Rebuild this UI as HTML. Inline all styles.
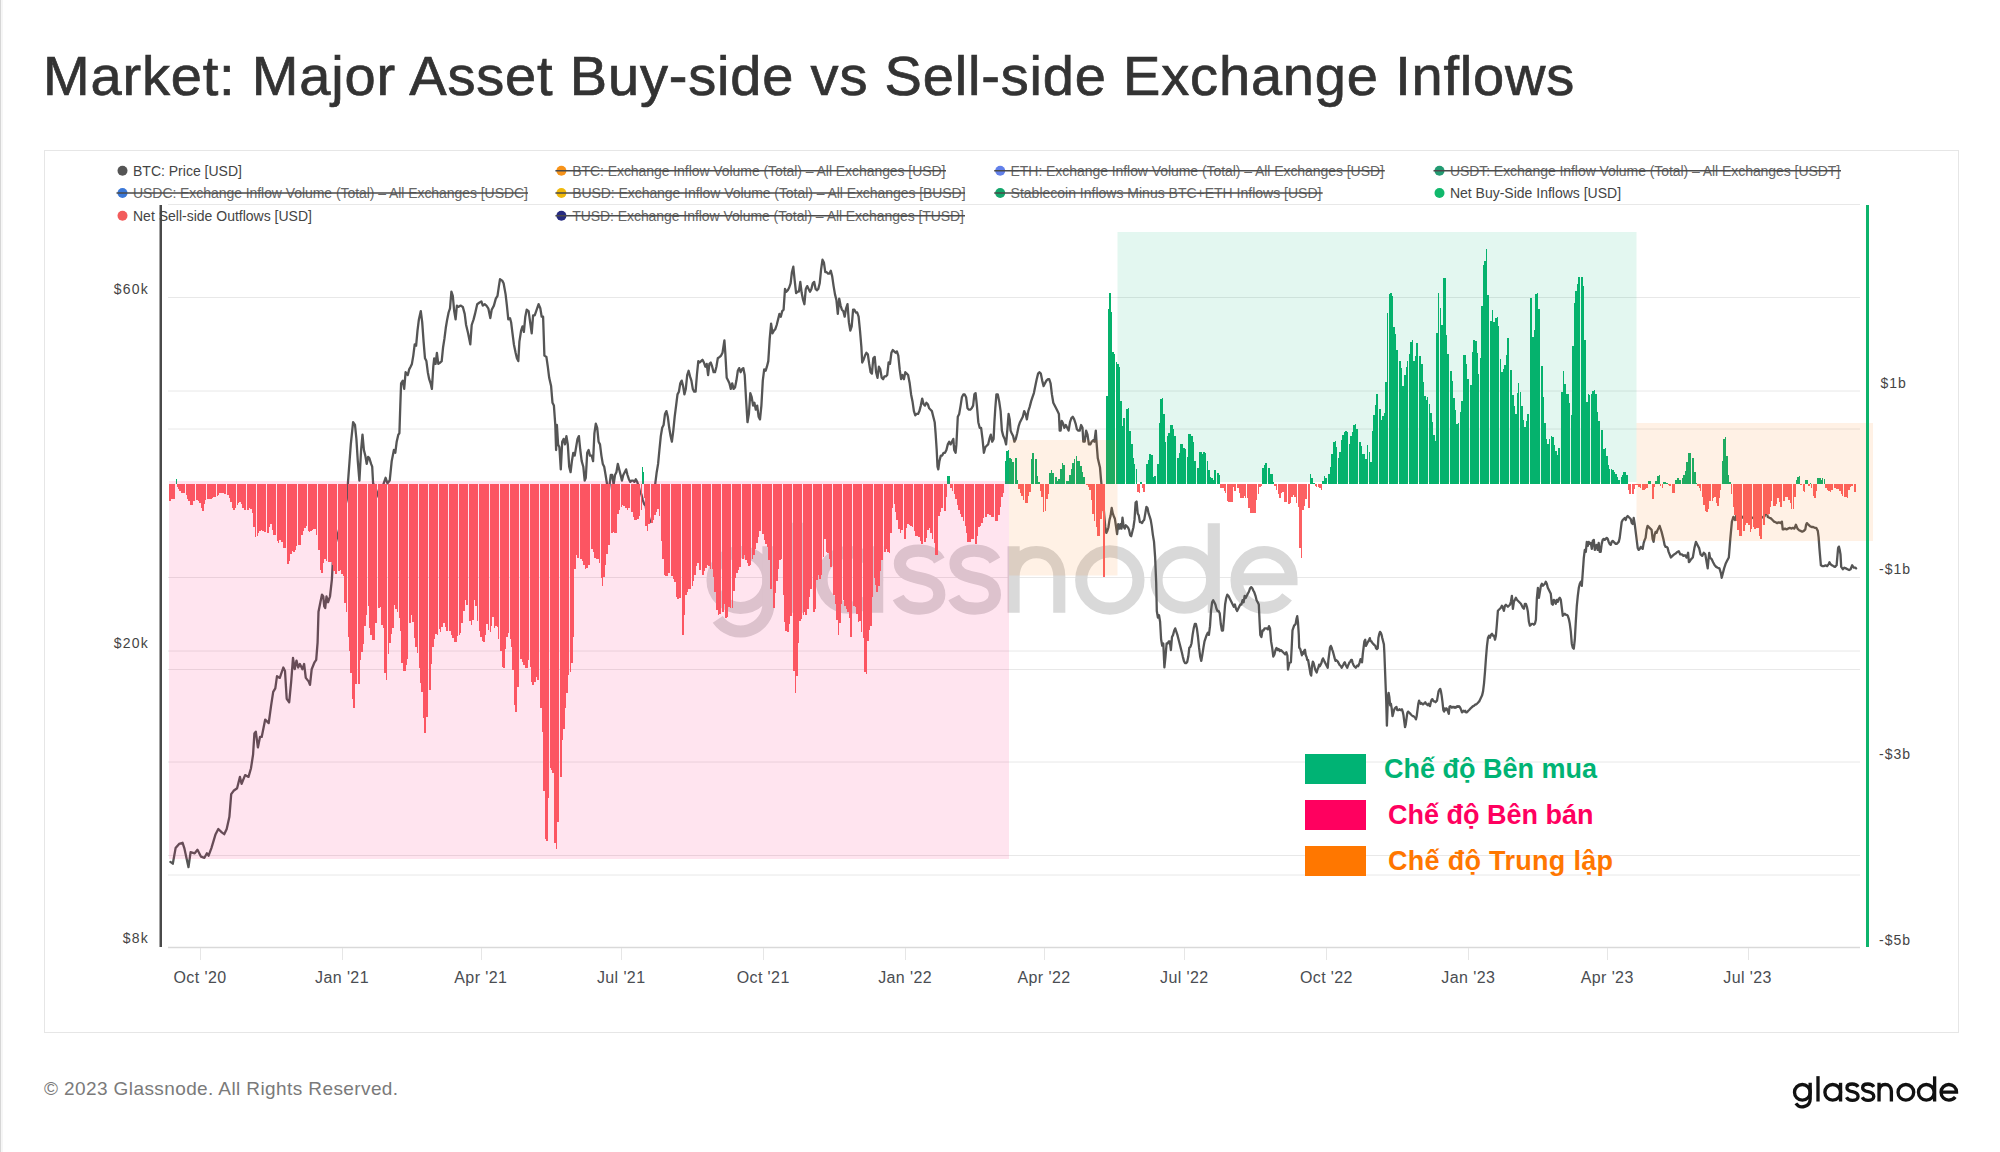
<!DOCTYPE html>
<html><head><meta charset="utf-8">
<style>
html,body{margin:0;padding:0;background:#fff;}
body{width:2000px;height:1152px;position:relative;overflow:hidden;font-family:"Liberation Sans",sans-serif;}
.abs{position:absolute;white-space:nowrap;}
#title{left:43px;top:0px;font-size:54px;line-height:54px;color:#333;}
#frame{position:absolute;left:44px;top:150px;width:1913px;height:881px;border:1px solid #e6e6e6;}
.lg{position:absolute;font-size:14px;line-height:14px;color:#444;white-space:nowrap;}
#foot{left:44px;font-size:19px;line-height:19px;color:#7a7a7a;}
.viet{position:absolute;font-weight:bold;font-size:27px;line-height:27px;white-space:nowrap;}
</style></head>
<body>
<div style="position:absolute;left:0;top:0;width:1px;height:1152px;background:#d6d6d6"></div>
<div style="position:absolute;left:1px;top:0;width:2px;height:1152px;background:#f6f6f6"></div>
<div id="frame"></div>
<svg width="2000" height="1152" viewBox="0 0 2000 1152" style="position:absolute;left:0;top:0">
<defs>
<g id="gn" fill="none" stroke-width="35">
 <circle cx="235" cy="340" r="82.5"/>
 <path d="M317.5,240V410A82.5,82.5 0 0 1 167,457"/>
 <path d="M400,170V437"/>
 <circle cx="555" cy="340" r="82.5"/>
 <path d="M637.5,240V437"/>
 <path d="M822,282C808,258 782,253 760,253C725,253 705,270 705,292C705,320 735,328 762,334C800,342 822,352 822,384C822,410 796,425 762,425C735,425 712,415 700,392"/>
 <path d="M987,282C973,258 947,253 925,253C890,253 870,270 870,292C870,320 900,328 927,334C965,342 987,352 987,384C987,410 961,425 927,425C900,425 877,415 865,392"/>
 <path d="M1042.5,240V437M1042.5,330C1042.5,285 1070,257.5 1107.5,257.5C1145,257.5 1172.5,285 1172.5,330V437"/>
 <circle cx="1325" cy="340" r="82.5"/>
 <circle cx="1540" cy="340" r="82.5"/>
 <path d="M1627.5,172V437"/>
 <path d="M1695,338H1858C1858,290 1822,257.5 1777,257.5C1732,257.5 1695,294 1695,340C1695,386 1732,422.5 1777,422.5C1805,422.5 1830,410 1845,390"/>
</g>
<g id="gw" fill="none" stroke-width="36">
 <circle cx="232" cy="340" r="83"/>
 <path d="M315,240V410A82.5,82.5 0 0 1 164.5,457"/>
 <path d="M400,170V437"/>
 <circle cx="555" cy="340" r="82.5"/>
 <path d="M637.5,240V437"/>
 <path d="M822,282C808,258 782,253 760,253C725,253 705,270 705,292C705,320 735,328 762,334C800,342 822,352 822,384C822,410 796,425 762,425C735,425 712,415 700,392"/>
 <path d="M987,282C973,258 947,253 925,253C890,253 870,270 870,292C870,320 900,328 927,334C965,342 987,352 987,384C987,410 961,425 927,425C900,425 877,415 865,392"/>
 <path d="M1042.5,240V437M1042.5,330C1042.5,285 1072,257.5 1110,257.5C1150,257.5 1178,285 1178,330V437"/>
 <circle cx="1328" cy="340" r="85"/>
 <circle cx="1549" cy="340" r="82.5"/>
 <path d="M1636.5,172V437"/>
 <path d="M1704,338H1867C1867,290 1831,257.5 1786,257.5C1741,257.5 1704,294 1704,340C1704,386 1741,422.5 1786,422.5C1814,422.5 1839,410 1854,390"/>
</g>
</defs>
<!-- gridlines -->
<g stroke="#e8e8e8" stroke-width="1">
<path d="M168,204.5H1860M168,297.5H1860M168,391H1860M168,429H1860M168,577.5H1860M168,651H1860M168,669.5H1860M168,762H1860M168,855.5H1860M168,875H1860"/>
</g>
<path d="M168,947.5H1860" stroke="#d9d9d9" stroke-width="1.5"/>
<!-- watermark -->
<use href="#gw" stroke="#d9d9d9" transform="translate(662.3,465.4) scale(0.337)"/>
<!-- price -->
<path d="M170.4,861.9 L172.8,863.7 L175.6,848.1 L179.1,843.9 L182.6,842.8 L184.3,848.1 L188.5,867.2 L190.6,852.2 L194.7,853.3 L197.5,849.8 L201.0,856.7 L204.4,857.8 L206.9,853.3 L208.6,855.7 L211.4,848.1 L215.6,834.2 L218.3,829.0 L221.8,832.4 L224.2,834.2 L226.7,829.0 L229.4,816.8 L231.2,794.2 L233.6,790.8 L237.1,788.3 L239.9,776.9 L241.6,783.8 L245.1,775.1 L248.5,776.9 L251.0,768.2 L253.1,754.3 L254.4,733.5 L255.8,731.7 L257.9,747.4 L260.0,736.9 L261.7,736.9 L265.2,719.6 L268.7,723.1 L271.1,705.7 L273.2,691.8 L275.3,688.3 L277.0,676.2 L279.8,677.9 L283.3,667.5 L285.0,671.0 L286.7,698.8 L289.2,702.2 L291.2,681.4 L293.0,657.8 L294.7,669.2 L296.5,660.6 L298.2,667.5 L299.9,664.0 L302.4,669.2 L304.1,664.0 L305.8,677.9 L308.6,681.4 L310.0,684.9 L311.7,669.2 L314.5,662.3 L316.2,659.9 L317.6,642.3 L318.5,611.8 L320.4,602.2 L322.0,594.6 L323.3,596.5 L324.2,606.1 L325.2,608.0 L326.5,596.5 L328.1,602.2 L330.0,596.5 L331.9,579.3 L332.8,562.1 L334.2,558.3 L335.7,543.0 L337.6,535.4 L346.7,500.0 L348.1,480.6 L350.8,444.4 L353.1,422.2 L355.0,425.0 L356.4,438.9 L357.8,461.1 L359.4,480.6 L361.1,450.0 L362.5,434.7 L363.9,450.0 L365.3,455.6 L366.7,463.9 L368.1,456.9 L369.4,458.3 L371.1,463.9 L372.2,466.7 L373.1,483.3 L375.8,488.9 L378.6,497.2 L382.8,486.1 L385.6,477.8 L387.5,483.3 L389.7,480.6 L391.7,461.1 L393.9,450.0 L395.3,452.8 L396.7,441.7 L398.3,434.7 L399.4,433.3 L400.3,405.6 L401.1,383.3 L402.8,380.6 L404.2,388.9 L405.6,372.2 L407.8,375.0 L409.2,369.4 L410.6,366.7 L411.9,363.9 L413.3,355.6 L414.7,344.4 L416.1,345.8 L417.5,330.6 L418.9,319.4 L420.8,311.1 L422.2,322.2 L423.6,341.7 L425.0,358.3 L426.4,361.1 L427.8,372.2 L429.2,379.2 L430.6,383.3 L431.9,388.9 L433.3,366.7 L434.2,358.3 L435.6,363.9 L436.9,352.8 L438.3,363.9 L440.3,362.5 L441.7,361.1 L443.1,347.2 L444.4,338.9 L445.8,327.8 L447.2,319.4 L448.6,312.5 L450.0,308.3 L451.4,291.7 L452.8,295.8 L454.2,311.1 L455.6,319.4 L456.9,305.6 L458.3,306.9 L460.6,305.6 L462.8,306.9 L464.7,313.9 L466.1,325.0 L468.1,333.3 L470.3,344.4 L471.7,325.0 L473.6,319.4 L475.0,313.9 L477.2,304.2 L479.2,302.8 L481.4,301.4 L482.8,305.6 L484.7,304.2 L486.4,305.6 L488.3,308.3 L490.3,318.1 L491.7,309.7 L493.9,305.6 L495.8,298.6 L497.5,295.8 L498.9,286.1 L500.0,279.2 L502.2,280.6 L503.6,283.3 L505.6,294.4 L506.9,305.6 L508.3,319.4 L510.0,318.1 L511.1,322.2 L512.5,333.3 L513.9,344.4 L515.6,352.8 L516.9,358.3 L518.3,361.1 L519.4,341.7 L521.1,330.6 L522.5,326.4 L523.9,331.9 L525.3,316.7 L526.7,309.7 L528.6,311.1 L531.7,333.3 L533.1,315.3 L534.7,315.3 L536.7,309.7 L538.6,304.2 L540.3,308.3 L541.7,316.7 L543.1,316.7 L544.4,355.6 L546.4,356.9 L547.8,366.7 L549.2,377.8 L551.1,386.1 L552.5,402.8 L553.9,405.6 L555.3,425.0 L556.1,450.0 L556.9,425.0 L558.1,444.4 L559.4,447.2 L560.8,469.4 L562.2,441.7 L563.6,438.9 L565.0,444.4 L566.4,436.1 L567.8,444.4 L569.2,466.7 L570.6,472.2 L571.9,461.1 L573.3,452.8 L574.7,455.6 L576.1,447.2 L577.5,438.9 L578.9,436.1 L580.3,450.0 L581.7,461.1 L583.3,466.7 L584.7,480.6 L585.8,477.8 L587.2,452.8 L588.6,450.0 L590.0,455.6 L591.7,455.6 L593.1,461.1 L594.4,433.3 L595.8,423.6 L597.2,427.8 L598.6,441.7 L600.0,444.4 L601.4,455.6 L602.8,463.9 L604.2,466.7 L605.6,475.0 L606.9,483.3 L608.3,494.4 L609.4,486.1 L610.8,475.0 L612.2,475.0 L613.6,484.7 L615.0,475.0 L616.4,472.2 L617.8,463.9 L619.2,469.4 L620.6,475.0 L621.9,480.6 L623.3,475.0 L624.7,472.2 L626.1,469.4 L627.5,475.0 L628.9,479.2 L630.3,481.9 L631.7,480.6 L633.1,480.6 L634.4,481.9 L635.8,479.2 L637.2,481.9 L638.6,486.1 L640.0,491.7 L641.4,494.4 L642.8,500.0 L644.2,504.2 L645.6,505.6 L646.9,513.9 L648.3,518.1 L649.7,522.2 L651.1,520.8 L652.5,515.3 L653.9,500.0 L655.3,483.3 L656.7,472.2 L658.1,463.9 L659.4,450.0 L660.8,436.1 L662.2,427.8 L663.6,425.0 L665.0,413.9 L666.4,411.1 L667.8,416.7 L669.2,427.8 L670.6,436.1 L671.9,441.7 L673.3,430.6 L674.7,416.7 L676.1,405.6 L677.5,394.4 L678.9,391.7 L680.3,383.3 L681.7,380.6 L683.1,386.1 L684.4,394.4 L685.8,388.9 L687.2,375.0 L688.6,370.8 L690.0,376.4 L691.4,380.6 L692.8,388.9 L694.2,391.7 L695.6,391.7 L696.9,375.0 L698.3,361.1 L699.7,362.5 L701.1,361.1 L702.5,359.7 L703.9,362.5 L705.3,366.7 L706.7,363.9 L708.1,375.0 L709.4,363.9 L710.8,362.5 L712.2,366.7 L713.6,372.2 L715.0,372.2 L716.4,366.7 L717.8,358.3 L719.7,356.9 L721.1,355.6 L722.5,352.8 L724.4,340.3 L725.3,352.8 L726.7,377.8 L728.1,380.6 L729.4,383.3 L730.8,388.9 L732.2,383.3 L733.6,388.9 L735.0,387.5 L736.4,380.6 L737.8,370.8 L739.2,368.1 L740.6,372.2 L741.9,369.4 L743.3,368.1 L744.7,375.0 L746.1,400.0 L747.5,422.2 L748.9,413.9 L750.3,393.1 L751.7,397.2 L753.1,405.6 L754.4,402.8 L755.8,409.7 L757.2,405.6 L758.6,416.7 L760.0,419.4 L761.4,405.6 L762.8,380.6 L764.2,369.4 L765.6,370.8 L766.9,366.7 L768.3,361.1 L769.7,338.9 L771.1,323.6 L772.5,333.3 L773.9,330.6 L775.3,329.2 L776.7,325.0 L778.1,319.4 L779.4,313.9 L780.8,316.7 L782.2,311.1 L783.6,309.7 L785.0,288.9 L786.4,291.7 L787.8,290.3 L789.2,287.5 L790.6,283.3 L791.9,272.2 L793.3,266.7 L794.7,280.6 L796.1,293.1 L797.5,291.7 L798.9,291.7 L800.3,281.9 L801.7,293.1 L803.1,300.0 L804.4,304.2 L805.8,288.9 L807.2,286.1 L808.6,288.9 L810.0,291.7 L811.4,288.9 L812.8,283.3 L814.2,281.9 L815.6,288.9 L816.9,290.3 L818.3,288.9 L819.7,283.3 L821.1,269.4 L822.5,259.7 L823.9,262.5 L825.3,272.2 L826.7,272.2 L828.1,273.6 L829.4,273.6 L830.8,270.8 L832.2,276.4 L833.6,286.1 L835.0,294.4 L836.4,300.0 L837.8,313.9 L839.2,298.6 L840.6,305.6 L841.9,309.7 L843.3,311.1 L844.7,316.7 L846.1,308.3 L847.5,304.2 L848.9,322.2 L850.3,330.6 L851.7,326.4 L853.1,309.7 L854.4,309.7 L855.8,312.5 L857.2,312.5 L858.6,316.7 L860.0,330.6 L861.4,347.2 L862.2,362.5 L863.6,359.7 L865.0,355.6 L866.4,352.8 L867.8,354.2 L869.2,363.9 L870.6,372.2 L871.9,373.6 L873.3,358.3 L874.7,356.9 L876.1,372.2 L877.5,377.8 L878.9,366.7 L880.3,369.4 L881.7,377.8 L883.1,379.2 L884.4,376.4 L885.8,376.4 L887.2,375.0 L888.6,362.5 L890.0,363.9 L891.4,352.8 L892.8,350.0 L894.2,351.4 L895.6,352.8 L896.9,351.4 L898.3,355.6 L899.7,369.4 L901.1,379.2 L902.5,375.0 L903.9,379.2 L905.3,372.2 L906.7,373.6 L908.1,375.0 L909.7,383.3 L911.1,394.4 L912.5,401.4 L913.9,411.1 L915.3,415.3 L916.7,413.9 L918.1,413.9 L919.4,411.1 L920.8,405.6 L922.2,398.6 L923.6,404.2 L925.0,405.6 L926.4,402.8 L927.8,404.2 L929.2,408.3 L930.6,409.7 L931.9,411.1 L933.3,416.7 L934.7,422.2 L935.6,433.3 L936.7,450.0 L937.5,466.7 L938.3,469.4 L939.4,461.1 L940.8,455.6 L942.2,455.6 L943.6,452.8 L945.0,452.8 L946.4,450.0 L947.8,444.4 L949.2,441.7 L950.6,444.4 L951.9,441.7 L953.3,438.9 L954.2,450.0 L955.6,452.8 L956.4,444.4 L957.8,416.7 L959.2,413.9 L960.6,405.6 L961.9,397.2 L963.3,394.4 L964.7,394.4 L966.1,397.2 L967.5,408.3 L968.9,409.7 L970.3,409.7 L971.7,408.3 L973.1,405.6 L974.4,394.4 L975.6,393.1 L976.9,405.6 L978.3,422.2 L979.7,427.8 L981.1,427.8 L982.5,438.9 L983.9,452.8 L985.3,447.2 L986.7,445.8 L988.1,444.4 L989.4,438.9 L990.8,434.7 L992.2,441.7 L993.6,438.9 L994.4,422.2 L995.3,408.3 L996.4,394.4 L997.8,394.4 L999.2,401.4 L1000.6,411.1 L1001.9,430.6 L1003.3,436.1 L1004.7,438.9 L1006.1,444.4 L1007.5,427.8 L1008.6,413.9 L1009.7,419.4 L1010.6,430.6 L1011.7,433.3 L1013.1,436.1 L1014.4,441.7 L1015.8,438.9 L1017.2,433.3 L1018.6,426.4 L1020.0,422.2 L1021.4,419.4 L1022.8,416.7 L1024.2,411.1 L1025.6,413.9 L1026.9,419.4 L1028.3,411.1 L1029.7,406.9 L1031.1,401.4 L1032.5,397.2 L1033.9,393.1 L1035.3,386.1 L1036.7,379.2 L1038.1,373.6 L1039.4,372.2 L1040.8,373.6 L1042.2,380.6 L1043.6,386.1 L1045.0,383.3 L1046.4,380.6 L1047.8,379.2 L1049.2,379.2 L1050.6,383.3 L1051.9,394.4 L1053.3,402.8 L1054.7,405.6 L1056.1,408.3 L1057.5,411.1 L1058.9,413.9 L1059.7,430.6 L1060.6,430.6 L1061.7,420.8 L1063.1,423.6 L1064.4,427.8 L1065.8,425.0 L1067.2,427.8 L1068.6,430.6 L1070.0,422.2 L1071.4,418.1 L1072.8,416.7 L1074.2,419.4 L1075.6,423.6 L1076.9,429.2 L1078.3,430.6 L1079.7,430.6 L1081.1,425.0 L1082.5,427.8 L1083.3,441.7 L1084.7,441.7 L1086.1,430.6 L1087.5,434.7 L1088.9,444.4 L1090.3,444.4 L1091.7,441.7 L1093.1,440.3 L1094.4,441.7 L1095.8,430.6 L1096.7,444.4 L1097.8,458.3 L1100.0,467.6 L1101.0,479.6 L1102.0,489.6 L1103.0,499.5 L1104.1,513.4 L1105.2,526.4 L1106.3,532.9 L1107.4,530.7 L1108.4,527.5 L1109.5,519.9 L1110.6,515.6 L1111.7,508.0 L1112.8,513.4 L1113.9,516.6 L1114.9,518.8 L1116.0,526.4 L1117.1,534.0 L1118.2,524.2 L1119.3,528.6 L1120.4,524.2 L1121.5,528.6 L1122.5,517.7 L1123.6,526.4 L1124.7,528.6 L1125.8,525.3 L1126.9,526.4 L1128.0,527.5 L1129.0,529.7 L1130.1,535.1 L1131.2,536.2 L1132.3,531.8 L1133.4,527.5 L1134.5,519.9 L1135.6,502.5 L1136.6,501.5 L1137.7,513.4 L1138.8,515.6 L1139.9,522.1 L1141.0,522.1 L1142.1,523.1 L1143.1,521.0 L1144.2,519.9 L1145.3,513.4 L1146.4,506.9 L1147.5,508.0 L1148.6,513.4 L1149.7,516.6 L1150.7,519.9 L1151.8,526.4 L1152.9,535.1 L1154.0,541.6 L1155.1,556.8 L1156.2,582.8 L1156.8,611.0 L1157.9,617.5 L1159.0,615.3 L1160.1,621.8 L1161.1,639.2 L1162.2,645.7 L1163.3,643.5 L1164.4,667.4 L1165.5,656.6 L1166.6,643.5 L1167.7,643.5 L1168.7,641.4 L1169.8,641.4 L1170.9,650.0 L1172.0,637.0 L1173.1,634.9 L1174.2,630.5 L1175.2,628.4 L1176.3,631.6 L1177.4,634.9 L1178.5,639.2 L1179.6,643.5 L1180.7,647.9 L1181.8,652.2 L1182.8,656.6 L1183.9,660.9 L1185.0,663.1 L1186.1,663.1 L1187.2,662.0 L1188.3,656.6 L1189.3,647.9 L1190.4,646.8 L1191.5,643.5 L1192.6,634.9 L1193.7,628.4 L1194.8,624.0 L1195.9,624.0 L1196.9,628.4 L1198.0,637.0 L1199.1,647.9 L1200.2,656.6 L1201.3,660.9 L1202.4,654.4 L1203.4,647.9 L1204.5,641.4 L1205.6,638.1 L1206.7,634.9 L1207.8,632.7 L1208.9,634.9 L1210.0,626.2 L1211.0,611.0 L1212.1,602.3 L1213.2,600.2 L1214.3,602.3 L1215.4,604.5 L1216.5,608.8 L1217.5,611.0 L1218.6,611.0 L1219.7,613.2 L1220.8,624.0 L1221.9,630.5 L1223.0,630.5 L1224.1,617.5 L1225.1,604.5 L1226.2,598.0 L1227.3,594.7 L1228.4,595.8 L1229.5,598.0 L1230.6,600.2 L1231.6,602.3 L1232.7,604.5 L1233.8,606.7 L1234.9,604.5 L1236.0,608.8 L1237.1,611.0 L1238.2,608.8 L1239.2,606.7 L1240.3,604.5 L1241.4,604.5 L1242.5,600.2 L1243.6,602.3 L1244.7,595.8 L1245.7,598.0 L1246.8,595.8 L1247.9,593.6 L1249.0,591.5 L1250.1,588.2 L1251.2,587.1 L1252.3,588.2 L1253.3,590.4 L1254.4,592.6 L1255.5,595.8 L1256.6,600.2 L1257.7,602.3 L1258.8,604.5 L1259.6,621.8 L1260.3,634.9 L1261.4,637.0 L1262.5,630.5 L1263.5,630.5 L1264.6,628.4 L1265.7,628.4 L1266.8,628.4 L1267.9,629.4 L1269.0,626.2 L1270.0,628.4 L1271.1,641.4 L1272.2,647.9 L1273.3,656.6 L1274.4,654.4 L1275.5,650.0 L1276.6,647.9 L1277.6,650.0 L1278.7,649.0 L1279.8,651.1 L1280.9,650.0 L1282.0,651.1 L1283.1,652.2 L1284.1,653.3 L1285.2,654.4 L1286.3,652.2 L1287.4,655.5 L1288.0,669.6 L1289.4,663.1 L1290.9,662.3 L1291.7,647.5 L1292.5,630.3 L1294.1,625.6 L1295.6,624.1 L1296.4,619.4 L1297.2,616.2 L1298.0,622.5 L1298.8,635.0 L1299.2,647.5 L1300.3,649.1 L1301.1,652.2 L1301.9,655.3 L1302.7,652.2 L1303.4,653.8 L1304.2,650.6 L1305.0,649.8 L1305.8,655.3 L1306.6,656.9 L1307.3,660.0 L1308.1,660.0 L1308.9,664.7 L1309.7,669.4 L1310.5,674.1 L1311.2,675.6 L1312.0,666.2 L1312.8,661.6 L1313.6,663.1 L1314.4,666.2 L1315.2,669.4 L1315.9,670.9 L1316.7,672.5 L1317.5,669.4 L1318.3,667.8 L1319.1,664.7 L1319.8,666.2 L1320.6,664.7 L1321.4,663.1 L1322.2,660.0 L1323.0,658.4 L1323.8,660.0 L1324.5,661.6 L1325.3,663.1 L1326.1,664.7 L1326.9,666.2 L1327.7,667.8 L1328.4,660.0 L1329.2,653.8 L1330.0,647.5 L1330.8,645.9 L1331.6,647.5 L1332.3,649.8 L1333.1,652.2 L1333.9,655.3 L1334.7,658.4 L1335.5,660.8 L1336.2,660.0 L1337.0,660.8 L1337.8,661.6 L1338.6,663.1 L1339.4,664.7 L1340.2,665.5 L1340.9,666.2 L1341.7,667.8 L1342.5,666.2 L1343.3,664.7 L1344.1,663.1 L1344.8,662.3 L1345.6,664.7 L1346.4,666.2 L1347.2,667.8 L1348.0,665.5 L1348.8,663.9 L1349.5,662.3 L1350.3,661.6 L1351.1,660.0 L1351.9,660.0 L1352.7,663.1 L1353.4,664.7 L1354.2,666.2 L1355.0,667.0 L1355.8,667.8 L1356.6,666.2 L1357.3,665.5 L1358.1,666.2 L1358.9,664.7 L1359.7,662.3 L1360.5,659.2 L1361.2,660.0 L1362.0,662.3 L1362.8,653.8 L1363.6,647.5 L1364.4,641.2 L1365.2,639.7 L1365.9,645.9 L1366.7,644.4 L1367.5,642.8 L1368.3,641.2 L1369.1,639.7 L1369.8,638.1 L1370.6,641.2 L1371.4,641.2 L1372.2,642.8 L1373.0,643.6 L1373.8,644.4 L1374.5,645.2 L1375.3,645.9 L1376.1,648.3 L1376.9,649.1 L1377.7,648.3 L1378.4,638.1 L1379.2,634.2 L1380.0,631.9 L1380.8,632.7 L1381.6,635.0 L1382.3,638.1 L1383.1,641.2 L1383.9,644.4 L1384.4,653.8 L1385.0,669.4 L1385.6,685.0 L1386.2,700.6 L1386.9,725.6 L1387.5,708.4 L1388.1,695.9 L1388.6,692.8 L1389.4,697.5 L1390.2,705.3 L1390.9,703.8 L1391.7,708.4 L1392.5,716.2 L1393.3,713.1 L1394.1,710.0 L1394.8,708.4 L1395.6,707.7 L1396.4,706.9 L1397.2,710.0 L1398.0,710.0 L1398.8,710.0 L1399.5,709.2 L1400.3,710.0 L1401.1,710.0 L1401.9,709.2 L1402.7,711.6 L1403.4,714.7 L1404.2,720.9 L1405.0,727.2 L1405.8,724.1 L1406.6,717.8 L1407.3,713.1 L1408.1,711.6 L1408.9,712.3 L1409.7,713.1 L1410.5,713.9 L1411.2,714.7 L1412.0,715.5 L1412.8,716.2 L1413.6,716.2 L1414.4,717.0 L1415.2,717.8 L1415.9,719.4 L1416.7,716.2 L1417.5,710.0 L1418.3,703.8 L1419.1,700.6 L1419.8,702.2 L1420.6,703.8 L1421.4,703.0 L1422.2,703.8 L1423.0,704.5 L1423.8,703.8 L1424.5,703.0 L1425.3,702.2 L1426.1,703.8 L1426.9,704.5 L1427.7,705.3 L1428.4,703.8 L1429.2,705.3 L1430.0,706.1 L1430.8,702.2 L1431.6,699.8 L1432.3,699.1 L1433.1,700.6 L1433.9,701.4 L1434.7,701.4 L1435.5,702.2 L1436.2,701.4 L1437.0,700.6 L1437.8,695.9 L1438.6,691.2 L1439.4,689.7 L1440.2,688.9 L1440.9,691.2 L1441.7,695.9 L1442.5,702.2 L1443.3,710.0 L1444.1,711.6 L1444.8,708.4 L1445.6,710.0 L1446.4,708.4 L1447.2,709.2 L1448.0,711.6 L1448.8,713.9 L1449.5,706.9 L1450.3,706.1 L1451.1,706.9 L1451.9,707.7 L1452.7,706.9 L1453.4,706.9 L1454.2,707.7 L1455.0,706.9 L1455.8,707.7 L1456.6,706.9 L1457.3,706.1 L1458.1,706.9 L1458.9,706.1 L1459.7,706.9 L1460.5,708.4 L1461.2,710.0 L1462.0,712.3 L1462.8,711.6 L1463.6,710.8 L1464.4,711.6 L1465.2,710.8 L1465.9,712.3 L1466.7,712.3 L1467.5,711.6 L1468.3,710.8 L1469.1,710.0 L1469.8,709.2 L1470.6,708.4 L1471.4,707.7 L1472.2,706.9 L1473.0,706.1 L1473.8,706.1 L1474.5,705.3 L1475.3,704.5 L1476.1,704.5 L1476.9,703.8 L1477.7,703.0 L1478.4,702.2 L1479.2,701.4 L1482.0,695.6 L1483.0,691.6 L1484.0,683.6 L1485.0,671.7 L1486.0,657.7 L1487.0,645.7 L1488.0,637.7 L1489.0,635.7 L1490.0,637.7 L1491.0,634.7 L1492.0,633.7 L1493.0,635.7 L1494.0,635.7 L1495.0,639.7 L1495.9,635.7 L1496.9,623.8 L1497.9,610.8 L1498.9,609.8 L1499.9,608.8 L1500.9,607.8 L1501.9,605.8 L1502.9,607.8 L1503.9,610.8 L1504.9,605.8 L1505.9,604.8 L1506.9,605.8 L1507.9,606.8 L1508.9,605.8 L1509.9,604.8 L1510.9,601.8 L1511.9,595.8 L1512.9,608.8 L1513.9,601.8 L1514.9,599.8 L1515.9,597.8 L1516.9,599.8 L1517.9,600.8 L1518.9,601.8 L1519.9,602.8 L1520.9,603.8 L1521.9,605.8 L1522.9,607.8 L1523.9,608.8 L1524.9,603.8 L1525.9,603.8 L1526.9,606.8 L1527.9,611.8 L1528.9,621.8 L1529.9,625.7 L1530.9,624.8 L1531.9,623.8 L1532.9,623.8 L1533.9,624.8 L1534.9,623.8 L1535.9,619.8 L1536.9,597.8 L1537.9,587.8 L1538.9,597.8 L1539.9,591.8 L1540.9,585.8 L1541.9,583.8 L1542.9,585.8 L1543.9,584.8 L1544.9,583.8 L1545.8,581.8 L1546.8,583.8 L1547.8,587.8 L1548.8,589.8 L1549.8,591.8 L1550.8,593.8 L1551.8,603.8 L1552.8,604.8 L1553.8,599.8 L1554.8,600.8 L1555.8,603.8 L1556.8,599.8 L1557.8,601.8 L1558.8,598.8 L1559.8,597.8 L1560.8,599.8 L1561.8,607.8 L1562.8,615.8 L1563.8,614.8 L1564.8,613.8 L1565.8,614.8 L1566.8,614.8 L1567.8,615.8 L1568.8,618.8 L1569.8,623.8 L1570.8,631.7 L1571.8,643.7 L1572.8,647.7 L1573.8,648.7 L1574.8,639.7 L1575.8,621.8 L1576.8,605.8 L1577.8,595.8 L1578.8,587.8 L1579.8,583.8 L1580.8,581.8 L1581.8,585.8 L1582.8,571.9 L1583.8,557.9 L1584.8,549.9 L1585.8,551.9 L1586.8,541.9 L1587.8,545.9 L1588.8,541.9 L1589.8,543.9 L1590.8,542.9 L1591.8,548.9 L1592.8,540.9 L1593.8,539.9 L1594.8,549.9 L1595.7,545.9 L1596.7,544.9 L1597.7,549.9 L1598.7,542.9 L1599.7,551.9 L1600.7,551.9 L1601.7,543.9 L1602.7,539.9 L1603.7,538.9 L1604.7,539.9 L1605.7,538.9 L1606.7,537.9 L1607.7,538.9 L1608.7,541.9 L1609.7,543.9 L1610.7,544.9 L1611.7,541.9 L1612.7,540.9 L1613.7,541.9 L1614.7,542.9 L1615.7,543.9 L1616.7,543.9 L1617.7,542.9 L1618.7,541.9 L1619.7,537.9 L1620.7,529.9 L1621.7,522.0 L1622.7,520.0 L1623.7,519.0 L1624.7,518.0 L1625.7,520.0 L1626.7,517.0 L1627.7,516.0 L1628.7,517.0 L1629.7,518.0 L1630.7,519.0 L1631.7,523.0 L1632.7,524.0 L1633.7,518.0 L1634.7,524.0 L1635.7,531.9 L1636.7,539.9 L1637.7,547.9 L1638.7,549.9 L1639.7,548.9 L1640.7,546.9 L1641.7,547.9 L1642.7,548.9 L1643.7,542.9 L1644.7,539.9 L1645.6,537.9 L1646.6,529.9 L1647.6,525.9 L1648.6,526.9 L1649.6,527.9 L1650.6,528.9 L1651.6,529.9 L1652.6,538.9 L1653.6,541.9 L1654.6,534.9 L1655.6,531.9 L1656.6,532.9 L1657.6,529.9 L1658.6,527.9 L1659.6,525.9 L1660.6,528.9 L1661.6,531.9 L1662.6,535.9 L1663.6,539.9 L1664.6,544.9 L1665.6,546.9 L1666.6,546.9 L1667.6,547.9 L1668.6,551.9 L1670.9,557.5 L1672.5,555.9 L1674.1,554.4 L1675.6,553.6 L1677.2,552.0 L1678.8,551.2 L1680.3,554.4 L1681.9,554.4 L1683.4,555.9 L1685.0,555.2 L1686.6,557.5 L1688.1,552.8 L1688.9,562.2 L1689.7,561.4 L1691.2,559.1 L1692.8,557.5 L1694.4,548.1 L1695.9,541.9 L1697.5,545.0 L1699.1,548.1 L1700.6,554.4 L1702.2,555.9 L1703.8,552.8 L1705.3,554.4 L1706.9,563.8 L1707.7,568.4 L1708.4,560.6 L1709.2,552.8 L1710.0,557.5 L1711.6,559.1 L1713.1,562.2 L1714.7,565.3 L1716.2,566.9 L1717.8,567.7 L1719.4,568.4 L1720.9,573.1 L1721.7,577.8 L1722.5,574.7 L1724.1,568.4 L1725.6,563.8 L1727.2,560.6 L1728.8,557.5 L1730.3,538.8 L1731.9,521.6 L1733.4,516.9 L1735.0,520.0 L1736.6,514.5 L1738.1,515.3 L1739.7,516.9 L1741.2,518.4 L1742.8,516.9 L1744.4,516.1 L1745.9,516.9 L1747.5,517.7 L1749.1,516.9 L1750.6,519.2 L1752.2,517.7 L1753.8,517.7 L1755.3,520.0 L1756.9,517.7 L1758.4,517.7 L1760.0,518.4 L1761.6,517.7 L1763.1,516.9 L1764.7,516.1 L1766.2,505.9 L1767.0,513.8 L1767.8,516.9 L1769.4,517.7 L1770.9,518.4 L1772.5,520.0 L1774.1,521.6 L1775.6,522.3 L1777.2,523.1 L1778.8,522.3 L1780.3,523.1 L1781.9,521.6 L1782.7,529.4 L1783.4,529.4 L1785.0,528.6 L1786.6,529.4 L1788.1,528.6 L1789.7,527.8 L1791.2,528.6 L1792.8,527.8 L1794.4,528.6 L1795.9,524.7 L1797.5,528.6 L1799.1,530.2 L1800.6,530.9 L1802.2,531.7 L1803.8,530.9 L1805.3,529.4 L1806.1,524.7 L1806.9,523.1 L1808.4,524.7 L1810.0,526.2 L1811.6,527.0 L1813.1,527.0 L1814.7,527.8 L1816.2,527.8 L1817.8,530.9 L1818.6,537.2 L1819.4,548.1 L1820.2,557.5 L1820.9,565.3 L1822.5,566.1 L1824.1,566.1 L1825.6,565.3 L1827.2,566.1 L1828.8,563.8 L1829.5,562.2 L1830.3,563.8 L1831.9,565.3 L1833.4,566.1 L1835.0,566.9 L1836.6,565.3 L1838.1,548.1 L1838.9,546.6 L1839.7,549.7 L1840.5,554.4 L1841.2,566.9 L1842.8,569.2 L1844.4,567.7 L1845.9,568.4 L1847.5,569.2 L1849.1,570.0 L1850.6,569.2 L1852.2,565.3 L1853.8,567.7 L1855.3,567.7 L1856.1,568.4" fill="none" stroke="#555" stroke-width="2.3" stroke-linejoin="round" stroke-linecap="round"/>
<!-- bars -->
<path d="M169,484h2V501.0h-2zM171,484h2V499.1h-2zM173,484h2V498.6h-2zM177,484h1V487.1h-1zM178,484h1V488.7h-1zM179,484h2V491.0h-2zM181,484h1V492.7h-1zM182,484h2V493.4h-2zM184,484h1V492.9h-1zM186,484h1V494.7h-1zM187,484h1V498.6h-1zM188,484h2V501.1h-2zM190,484h3V504.8h-3zM193,484h2V500.7h-2zM196,484h2V499.5h-2zM198,484h1V500.6h-1zM199,484h2V503.0h-2zM201,484h1V507.9h-1zM202,484h2V510.5h-2zM204,484h1V503.5h-1zM205,484h1V500.0h-1zM207,484h1V498.5h-1zM208,484h2V499.1h-2zM210,484h2V498.9h-2zM212,484h1V498.1h-1zM213,484h2V497.4h-2zM215,484h1V496.6h-1zM217,484h1V495.8h-1zM218,484h1V494.8h-1zM219,484h2V493.3h-2zM221,484h1V492.6h-1zM222,484h2V492.8h-2zM224,484h1V494.3h-1zM225,484h1V494.1h-1zM227,484h2V495.1h-2zM229,484h1V497.9h-1zM230,484h2V502.0h-2zM232,484h1V508.4h-1zM233,484h2V510.4h-2zM235,484h1V508.2h-1zM237,484h1V505.1h-1zM238,484h1V503.4h-1zM239,484h2V501.9h-2zM241,484h1V503.8h-1zM242,484h2V508.4h-2zM244,484h2V510.1h-2zM247,484h2V509.5h-2zM249,484h1V507.9h-1zM250,484h2V508.7h-2zM252,484h1V513.3h-1zM253,484h2V527.1h-2zM255,484h1V537.2h-1zM257,484h1V535.7h-1zM258,484h1V532.8h-1zM259,484h2V530.6h-2zM261,484h1V530.3h-1zM262,484h2V531.1h-2zM264,484h2V532.1h-2zM267,484h2V532.9h-2zM269,484h1V526.7h-1zM270,484h2V524.4h-2zM272,484h1V530.1h-1zM273,484h3V535.4h-3zM277,484h1V541.0h-1zM278,484h1V542.9h-1zM279,484h2V539.9h-2zM281,484h2V542.2h-2zM283,484h1V547.6h-1zM284,484h2V547.8h-2zM287,484h2V563.8h-2zM289,484h1V561.1h-1zM290,484h2V553.8h-2zM292,484h1V550.8h-1zM293,484h2V552.4h-2zM295,484h1V550.2h-1zM296,484h1V546.3h-1zM298,484h1V544.9h-1zM299,484h2V544.5h-2zM301,484h2V535.2h-2zM303,484h1V531.0h-1zM304,484h2V527.9h-2zM306,484h1V526.3h-1zM308,484h1V530.9h-1zM309,484h1V531.6h-1zM310,484h2V530.9h-2zM312,484h1V529.7h-1zM313,484h3V528.7h-3zM316,484h1V535.0h-1zM318,484h2V549.7h-2zM320,484h1V569.5h-1zM321,484h2V573.2h-2zM323,484h1V562.8h-1zM324,484h2V559.3h-2zM326,484h1V561.3h-1zM328,484h2V562.1h-2zM330,484h2V561.8h-2zM332,484h1V564.9h-1zM333,484h2V570.7h-2zM335,484h2V573.5h-2zM338,484h2V571.2h-2zM340,484h1V570.1h-1zM341,484h2V573.7h-2zM343,484h1V575.7h-1zM344,484h2V603.4h-2zM346,484h1V612.4h-1zM348,484h1V636.5h-1zM349,484h1V651.0h-1zM350,484h2V673.1h-2zM352,484h1V699.1h-1zM353,484h2V708.0h-2zM355,484h2V683.5h-2zM358,484h2V683.6h-2zM360,484h1V660.4h-1zM361,484h2V651.6h-2zM363,484h1V643.7h-1zM364,484h2V626.3h-2zM366,484h1V614.9h-1zM368,484h1V605.6h-1zM369,484h1V628.2h-1zM370,484h2V634.6h-2zM372,484h3V640.0h-3zM375,484h2V623.2h-2zM378,484h2V607.5h-2zM380,484h1V606.6h-1zM381,484h2V625.1h-2zM383,484h1V628.3h-1zM384,484h2V672.8h-2zM386,484h1V679.6h-1zM388,484h1V653.8h-1zM389,484h2V643.3h-2zM391,484h1V633.6h-1zM392,484h2V628.3h-2zM394,484h1V605.2h-1zM395,484h2V608.7h-2zM397,484h1V612.1h-1zM399,484h1V618.4h-1zM400,484h1V631.0h-1zM401,484h2V663.1h-2zM403,484h3V671.4h-3zM406,484h1V664.7h-1zM407,484h1V658.5h-1zM409,484h2V623.1h-2zM411,484h1V614.5h-1zM412,484h2V622.2h-2zM414,484h1V637.6h-1zM415,484h2V646.9h-2zM417,484h1V653.2h-1zM419,484h1V668.2h-1zM420,484h1V682.5h-1zM421,484h2V691.6h-2zM423,484h1V718.1h-1zM424,484h2V733.0h-2zM426,484h2V717.2h-2zM429,484h2V689.9h-2zM431,484h1V663.8h-1zM432,484h2V646.5h-2zM434,484h1V639.4h-1zM435,484h2V634.2h-2zM437,484h1V635.1h-1zM439,484h1V629.1h-1zM440,484h1V631.7h-1zM441,484h2V626.7h-2zM443,484h2V623.2h-2zM445,484h1V626.8h-1zM446,484h2V630.6h-2zM449,484h2V631.2h-2zM451,484h1V635.3h-1zM452,484h2V638.4h-2zM454,484h1V641.5h-1zM455,484h2V641.7h-2zM457,484h1V636.0h-1zM459,484h1V635.1h-1zM460,484h1V632.7h-1zM461,484h2V623.0h-2zM463,484h2V610.6h-2zM465,484h1V600.1h-1zM466,484h2V604.8h-2zM469,484h2V620.5h-2zM471,484h1V624.9h-1zM472,484h2V620.2h-2zM474,484h1V600.1h-1zM475,484h2V605.7h-2zM477,484h1V621.2h-1zM479,484h1V630.7h-1zM480,484h2V637.3h-2zM482,484h1V640.9h-1zM483,484h2V641.6h-2zM485,484h1V634.9h-1zM486,484h2V624.2h-2zM488,484h1V630.2h-1zM490,484h1V631.7h-1zM491,484h1V626.1h-1zM492,484h2V617.0h-2zM494,484h1V628.1h-1zM495,484h2V626.2h-2zM497,484h1V626.6h-1zM498,484h1V639.0h-1zM500,484h2V651.3h-2zM502,484h1V666.7h-1zM503,484h2V667.8h-2zM505,484h1V648.6h-1zM506,484h2V637.3h-2zM508,484h1V632.8h-1zM510,484h1V639.0h-1zM511,484h1V646.9h-1zM512,484h2V669.6h-2zM514,484h1V705.2h-1zM515,484h2V712.3h-2zM517,484h2V687.3h-2zM520,484h2V658.6h-2zM522,484h1V661.7h-1zM523,484h2V664.8h-2zM525,484h1V667.9h-1zM526,484h2V668.1h-2zM528,484h1V659.5h-1zM530,484h1V667.4h-1zM531,484h1V681.5h-1zM532,484h2V684.6h-2zM534,484h2V681.5h-2zM536,484h1V676.7h-1zM537,484h2V679.8h-2zM540,484h2V707.7h-2zM542,484h1V732.3h-1zM543,484h2V790.8h-2zM545,484h1V838.6h-1zM546,484h2V840.5h-2zM548,484h1V797.8h-1zM550,484h1V768.4h-1zM551,484h1V769.6h-1zM552,484h2V773.4h-2zM554,484h2V842.7h-2zM556,484h1V849.0h-1zM557,484h2V822.1h-2zM560,484h2V777.0h-2zM562,484h1V739.9h-1zM563,484h2V728.8h-2zM565,484h1V708.3h-1zM566,484h2V692.6h-2zM568,484h1V674.6h-1zM570,484h1V671.5h-1zM571,484h2V662.5h-2zM573,484h1V636.6h-1zM574,484h2V569.0h-2zM576,484h1V555.1h-1zM577,484h2V557.8h-2zM580,484h2V559.2h-2zM582,484h1V560.5h-1zM583,484h2V564.6h-2zM585,484h1V569.0h-1zM586,484h2V568.3h-2zM588,484h2V565.2h-2zM591,484h2V549.3h-2zM593,484h1V552.4h-1zM594,484h2V558.3h-2zM596,484h3V559.2h-3zM599,484h1V562.5h-1zM601,484h1V577.7h-1zM602,484h1V585.6h-1zM603,484h2V576.8h-2zM605,484h1V564.5h-1zM606,484h2V553.9h-2zM608,484h2V544.9h-2zM611,484h2V532.8h-2zM613,484h1V532.3h-1zM614,484h2V532.6h-2zM616,484h1V532.6h-1zM617,484h2V514.0h-2zM619,484h1V510.1h-1zM621,484h1V507.0h-1zM622,484h1V505.4h-1zM623,484h2V506.4h-2zM625,484h2V508.2h-2zM627,484h1V509.6h-1zM628,484h2V508.1h-2zM631,484h2V511.7h-2zM633,484h1V517.1h-1zM634,484h3V519.6h-3zM637,484h2V519.3h-2zM639,484h1V516.1h-1zM641,484h1V509.9h-1zM644,484h1V498.1h-1zM645,484h2V525.9h-2zM647,484h1V530.7h-1zM648,484h2V523.7h-2zM651,484h2V522.8h-2zM653,484h1V519.9h-1zM654,484h2V515.0h-2zM656,484h1V512.0h-1zM657,484h2V508.9h-2zM659,484h1V516.2h-1zM661,484h1V540.5h-1zM662,484h2V559.1h-2zM664,484h1V574.5h-1zM665,484h3V575.7h-3zM668,484h2V573.1h-2zM671,484h2V576.4h-2zM673,484h1V579.0h-1zM674,484h2V581.5h-2zM676,484h1V596.8h-1zM677,484h2V598.8h-2zM679,484h2V598.2h-2zM682,484h2V634.7h-2zM684,484h1V614.9h-1zM685,484h2V595.2h-2zM687,484h1V592.1h-1zM688,484h2V588.5h-2zM690,484h1V588.9h-1zM692,484h1V586.2h-1zM693,484h1V580.6h-1zM694,484h2V574.5h-2zM696,484h1V566.2h-1zM697,484h2V562.5h-2zM699,484h2V570.0h-2zM702,484h2V574.5h-2zM704,484h1V571.4h-1zM705,484h2V568.3h-2zM707,484h1V565.3h-1zM708,484h2V565.9h-2zM710,484h1V569.0h-1zM712,484h1V569.0h-1zM713,484h1V576.9h-1zM714,484h2V591.8h-2zM716,484h2V609.6h-2zM718,484h1V614.9h-1zM719,484h2V613.5h-2zM722,484h2V611.6h-2zM724,484h1V603.7h-1zM725,484h2V618.2h-2zM727,484h1V616.8h-1zM728,484h2V606.8h-2zM730,484h1V608.4h-1zM732,484h1V608.4h-1zM733,484h2V590.5h-2zM735,484h1V577.6h-1zM736,484h2V573.1h-2zM738,484h1V570.0h-1zM739,484h2V566.9h-2zM742,484h2V559.0h-2zM744,484h1V555.2h-1zM745,484h2V560.3h-2zM747,484h1V563.4h-1zM748,484h2V565.8h-2zM750,484h1V564.5h-1zM752,484h1V558.8h-1zM753,484h2V555.4h-2zM755,484h1V549.3h-1zM756,484h2V543.1h-2zM758,484h1V536.9h-1zM759,484h2V530.8h-2zM762,484h2V533.6h-2zM764,484h1V539.7h-1zM765,484h2V544.3h-2zM767,484h1V547.4h-1zM768,484h2V559.8h-2zM770,484h2V588.6h-2zM773,484h2V608.3h-2zM775,484h1V593.4h-1zM776,484h2V581.1h-2zM778,484h1V568.8h-1zM779,484h2V559.6h-2zM781,484h1V558.7h-1zM783,484h1V594.7h-1zM784,484h1V621.6h-1zM785,484h2V630.6h-2zM787,484h2V631.7h-2zM789,484h1V624.3h-1zM790,484h2V616.0h-2zM793,484h2V670.7h-2zM795,484h1V693.2h-1zM796,484h2V675.9h-2zM798,484h1V643.1h-1zM799,484h2V620.9h-2zM801,484h1V618.6h-1zM803,484h1V614.7h-1zM804,484h1V611.7h-1zM805,484h2V615.2h-2zM807,484h2V608.9h-2zM809,484h1V596.7h-1zM810,484h2V588.8h-2zM813,484h2V611.9h-2zM815,484h1V608.8h-1zM816,484h2V579.7h-2zM818,484h1V574.6h-1zM819,484h2V579.0h-2zM821,484h1V575.0h-1zM823,484h1V556.5h-1zM824,484h2V539.2h-2zM826,484h1V551.7h-1zM827,484h2V552.5h-2zM829,484h1V559.4h-1zM830,484h2V567.4h-2zM833,484h2V594.5h-2zM835,484h1V603.9h-1zM836,484h2V619.9h-2zM838,484h1V634.5h-1zM839,484h2V622.6h-2zM841,484h1V604.2h-1zM843,484h1V600.2h-1zM844,484h2V605.9h-2zM846,484h1V609.0h-1zM847,484h2V612.2h-2zM849,484h1V618.4h-1zM850,484h2V637.3h-2zM853,484h2V606.3h-2zM855,484h1V607.4h-1zM856,484h2V614.4h-2zM858,484h1V621.8h-1zM859,484h2V621.3h-2zM861,484h1V632.1h-1zM863,484h1V638.3h-1zM864,484h2V671.6h-2zM866,484h1V674.0h-1zM867,484h2V641.1h-2zM869,484h1V630.0h-1zM870,484h2V626.1h-2zM872,484h1V597.2h-1zM874,484h1V578.4h-1zM875,484h1V585.0h-1zM876,484h2V592.1h-2zM878,484h2V585.8h-2zM880,484h1V571.4h-1zM881,484h2V559.9h-2zM884,484h2V552.2h-2zM886,484h1V548.9h-1zM887,484h2V552.0h-2zM889,484h1V552.6h-1zM890,484h2V532.5h-2zM892,484h1V508.3h-1zM894,484h1V504.3h-1zM895,484h1V511.7h-1zM896,484h2V520.2h-2zM898,484h2V529.4h-2zM900,484h1V532.7h-1zM901,484h2V529.8h-2zM904,484h2V539.0h-2zM906,484h1V528.1h-1zM907,484h2V523.9h-2zM909,484h1V524.6h-1zM910,484h2V525.8h-2zM912,484h1V527.3h-1zM914,484h1V531.1h-1zM915,484h2V535.7h-2zM917,484h1V536.1h-1zM918,484h2V536.6h-2zM920,484h1V541.3h-1zM921,484h2V544.4h-2zM924,484h2V542.4h-2zM926,484h1V537.7h-1zM927,484h2V530.0h-2zM929,484h1V527.8h-1zM930,484h2V533.4h-2zM932,484h1V539.3h-1zM934,484h1V543.2h-1zM935,484h3V554.8h-3zM938,484h2V515.9h-2zM940,484h1V512.4h-1zM941,484h2V507.7h-2zM944,484h2V511.1h-2zM946,484h1V497.1h-1zM950,484h2V487.9h-2zM952,484h1V490.5h-1zM954,484h1V493.5h-1zM955,484h2V498.8h-2zM957,484h1V505.0h-1zM958,484h2V509.7h-2zM960,484h1V514.2h-1zM961,484h2V517.3h-2zM963,484h1V520.9h-1zM965,484h1V525.5h-1zM966,484h1V532.6h-1zM967,484h2V541.6h-2zM969,484h2V541.5h-2zM971,484h1V539.3h-1zM972,484h2V538.9h-2zM975,484h2V544.2h-2zM977,484h1V535.9h-1zM978,484h2V527.3h-2zM980,484h1V525.8h-1zM981,484h2V522.7h-2zM983,484h1V518.1h-1zM985,484h2V516.7h-2zM987,484h2V513.9h-2zM989,484h2V514.5h-2zM991,484h3V516.7h-3zM995,484h2V520.8h-2zM997,484h1V520.5h-1zM998,484h2V515.0h-2zM1000,484h1V506.5h-1zM1001,484h2V497.3h-2zM1003,484h1V492.6h-1zM1018,484h2V488.6h-2zM1020,484h1V492.5h-1zM1021,484h2V496.3h-2zM1023,484h1V500.2h-1zM1025,484h1V502.5h-1zM1026,484h2V502.8h-2zM1028,484h1V495.5h-1zM1029,484h2V491.7h-2zM1040,484h1V491.0h-1zM1041,484h2V497.1h-2zM1043,484h1V512.3h-1zM1045,484h1V511.3h-1zM1046,484h2V498.9h-2zM1048,484h1V493.6h-1zM1086,484h2V485.3h-2zM1088,484h1V487.0h-1zM1089,484h2V490.0h-2zM1091,484h1V500.4h-1zM1092,484h2V513.6h-2zM1094,484h1V520.8h-1zM1096,484h1V527.0h-1zM1097,484h3V535.8h-3zM1100,484h2V519.2h-2zM1102,484h1V511.3h-1zM1103,484h2V576.5h-2zM1137,484h2V491.7h-2zM1139,484h1V492.6h-1zM1142,484h1V488.4h-1zM1143,484h2V491.5h-2zM1220,484h4V487.9h-4zM1224,484h1V491.4h-1zM1225,484h1V493.2h-1zM1227,484h1V501.0h-1zM1228,484h5V501.6h-5zM1233,484h1V487.1h-1zM1234,484h2V490.6h-2zM1237,484h2V488.3h-2zM1239,484h1V493.0h-1zM1240,484h4V498.4h-4zM1244,484h1V496.1h-1zM1245,484h1V498.2h-1zM1247,484h1V498.4h-1zM1248,484h2V507.8h-2zM1250,484h6V513.3h-6zM1256,484h1V500.2h-1zM1258,484h1V493.8h-1zM1259,484h2V486.7h-2zM1261,484h1V486.2h-1zM1274,484h2V486.4h-2zM1276,484h1V490.0h-1zM1278,484h1V493.6h-1zM1279,484h2V498.1h-2zM1281,484h1V492.8h-1zM1282,484h2V492.2h-2zM1284,484h3V502.3h-3zM1288,484h2V503.9h-2zM1290,484h1V502.5h-1zM1291,484h2V496.9h-2zM1293,484h1V494.7h-1zM1294,484h2V496.9h-2zM1296,484h1V503.0h-1zM1298,484h1V506.6h-1zM1299,484h2V548.4h-2zM1301,484h1V557.8h-1zM1302,484h2V510.2h-2zM1304,484h1V506.3h-1zM1305,484h2V498.6h-2zM1308,484h2V507.8h-2zM1315,484h1V485.7h-1zM1316,484h1V486.7h-1zM1318,484h1V486.6h-1zM1319,484h2V488.3h-2zM1321,484h1V490.2h-1zM1628,484h1V489.8h-1zM1629,484h2V494.2h-2zM1632,484h2V494.2h-2zM1634,484h1V488.5h-1zM1635,484h2V485.4h-2zM1637,484h1V485.2h-1zM1638,484h2V486.8h-2zM1640,484h1V488.3h-1zM1642,484h1V489.9h-1zM1643,484h2V490.2h-2zM1645,484h1V489.1h-1zM1646,484h2V487.6h-2zM1652,484h2V499.3h-2zM1654,484h1V487.4h-1zM1660,484h1V486.3h-1zM1662,484h1V487.9h-1zM1668,484h1V484.8h-1zM1669,484h2V485.6h-2zM1672,484h2V493.0h-2zM1674,484h1V493.4h-1zM1697,484h2V486.3h-2zM1699,484h1V488.3h-1zM1700,484h1V490.9h-1zM1702,484h1V497.3h-1zM1703,484h2V505.0h-2zM1705,484h1V510.6h-1zM1706,484h2V512.1h-2zM1708,484h1V508.7h-1zM1709,484h2V501.4h-2zM1712,484h1V501.2h-1zM1713,484h1V498.4h-1zM1714,484h2V496.8h-2zM1716,484h1V502.6h-1zM1717,484h2V505.9h-2zM1719,484h1V498.0h-1zM1720,484h1V490.2h-1zM1731,484h1V494.0h-1zM1733,484h1V506.7h-1zM1734,484h2V515.1h-2zM1736,484h1V520.7h-1zM1737,484h2V530.0h-2zM1739,484h3V535.6h-3zM1743,484h2V530.8h-2zM1745,484h1V524.6h-1zM1746,484h2V523.0h-2zM1748,484h2V524.8h-2zM1750,484h1V532.4h-1zM1751,484h1V529.3h-1zM1753,484h1V527.1h-1zM1754,484h2V529.3h-2zM1756,484h1V527.8h-1zM1757,484h2V528.0h-2zM1759,484h1V536.1h-1zM1760,484h2V538.7h-2zM1763,484h2V525.4h-2zM1765,484h2V513.9h-2zM1767,484h1V515.2h-1zM1768,484h2V514.1h-2zM1770,484h1V506.6h-1zM1771,484h1V500.6h-1zM1773,484h1V505.9h-1zM1774,484h2V505.8h-2zM1776,484h1V503.8h-1zM1777,484h2V498.3h-2zM1779,484h1V501.6h-1zM1780,484h2V507.3h-2zM1783,484h2V501.1h-2zM1785,484h3V496.5h-3zM1788,484h2V499.6h-2zM1790,484h1V502.7h-1zM1791,484h1V508.8h-1zM1793,484h1V508.8h-1zM1794,484h2V497.3h-2zM1800,484h2V485.4h-2zM1803,484h1V491.0h-1zM1804,484h1V491.9h-1zM1808,484h2V485.5h-2zM1811,484h1V488.1h-1zM1813,484h1V496.0h-1zM1814,484h2V498.0h-2zM1816,484h1V491.0h-1zM1825,484h2V487.7h-2zM1827,484h1V489.8h-1zM1828,484h2V491.3h-2zM1830,484h1V491.9h-1zM1831,484h2V489.9h-2zM1834,484h2V488.1h-2zM1836,484h1V488.7h-1zM1837,484h2V489.0h-2zM1839,484h2V491.2h-2zM1841,484h1V493.6h-1zM1842,484h1V495.8h-1zM1844,484h1V496.6h-1zM1845,484h2V497.4h-2zM1847,484h1V498.1h-1zM1848,484h2V489.7h-2zM1850,484h1V487.1h-1zM1851,484h2V485.7h-2zM1854,484h2V491.6h-2z" fill="#fc6062" shape-rendering="crispEdges"/>
<path d="M176,479.2h1V484h-1zM642,466.5h1V484h-1zM643,472.0h1V484h-1zM947,476.4h3V484h-3zM1005,461.0h1V484h-1zM1006,451.1h2V484h-2zM1008,450.0h1V484h-1zM1009,458.4h2V484h-2zM1011,458.5h1V484h-1zM1012,461.6h2V484h-2zM1015,458.4h2V484h-2zM1017,479.9h1V484h-1zM1031,459.1h1V484h-1zM1032,452.8h2V484h-2zM1035,458.7h2V484h-2zM1037,475.7h1V484h-1zM1038,482.0h2V484h-2zM1049,473.3h2V484h-2zM1051,469.5h1V484h-1zM1052,473.0h2V484h-2zM1055,476.5h2V484h-2zM1057,480.5h1V484h-1zM1058,478.9h2V484h-2zM1060,469.2h2V484h-2zM1062,462.7h1V484h-1zM1063,465.4h2V484h-2zM1066,481.2h2V484h-2zM1068,480.6h1V484h-1zM1069,475.3h2V484h-2zM1071,469.0h1V484h-1zM1072,463.3h2V484h-2zM1074,459.4h1V484h-1zM1076,455.8h1V484h-1zM1077,461.3h2V484h-2zM1079,461.1h1V484h-1zM1080,466.4h2V484h-2zM1082,471.5h1V484h-1zM1083,477.0h2V484h-2zM1106,395.5h2V484h-2zM1108,309.1h1V484h-1zM1109,292.5h2V484h-2zM1111,311.9h1V484h-1zM1112,352.3h2V484h-2zM1114,354.3h1V484h-1zM1116,361.9h1V484h-1zM1117,364.1h2V484h-2zM1119,367.2h1V484h-1zM1120,400.6h2V484h-2zM1122,425.9h1V484h-1zM1123,417.9h2V484h-2zM1126,409.3h2V484h-2zM1128,407.8h1V484h-1zM1129,430.7h2V484h-2zM1131,444.1h2V484h-2zM1133,458.3h1V484h-1zM1134,463.7h1V484h-1zM1136,469.0h1V484h-1zM1140,481.7h2V484h-2zM1146,463.5h2V484h-2zM1148,460.4h1V484h-1zM1149,453.9h2V484h-2zM1151,455.0h2V484h-2zM1153,477.2h1V484h-1zM1154,475.9h2V484h-2zM1157,463.9h2V484h-2zM1159,422.9h1V484h-1zM1160,398.8h2V484h-2zM1162,398.3h1V484h-1zM1163,413.7h2V484h-2zM1165,442.0h1V484h-1zM1167,435.7h1V484h-1zM1168,432.9h2V484h-2zM1170,424.7h1V484h-1zM1171,425.4h2V484h-2zM1173,429.2h1V484h-1zM1174,435.6h2V484h-2zM1177,458.3h2V484h-2zM1179,452.6h1V484h-1zM1180,444.0h2V484h-2zM1182,444.1h1V484h-1zM1183,447.8h2V484h-2zM1185,448.8h1V484h-1zM1187,457.2h1V484h-1zM1188,433.9h2V484h-2zM1190,434.4h1V484h-1zM1191,436.2h2V484h-2zM1193,442.1h1V484h-1zM1194,460.8h2V484h-2zM1197,467.6h2V484h-2zM1199,451.6h3V484h-3zM1202,453.5h1V484h-1zM1203,451.6h2V484h-2zM1205,453.0h1V484h-1zM1207,460.7h1V484h-1zM1208,469.6h2V484h-2zM1210,476.7h1V484h-1zM1211,477.8h2V484h-2zM1213,480.1h1V484h-1zM1214,469.5h2V484h-2zM1217,472.8h2V484h-2zM1219,475.0h1V484h-1zM1262,467.9h2V484h-2zM1264,465.3h1V484h-1zM1265,463.3h2V484h-2zM1268,467.6h2V484h-2zM1270,473.6h1V484h-1zM1271,474.2h2V484h-2zM1273,481.9h1V484h-1zM1310,473.8h1V484h-1zM1311,477.9h2V484h-2zM1313,483.3h2V484h-2zM1322,480.8h2V484h-2zM1324,476.2h1V484h-1zM1325,477.7h2V484h-2zM1328,474.2h2V484h-2zM1330,467.0h1V484h-1zM1331,454.0h2V484h-2zM1333,442.1h2V484h-2zM1335,441.2h1V484h-1zM1336,447.2h1V484h-1zM1338,458.4h1V484h-1zM1339,452.1h2V484h-2zM1341,440.4h1V484h-1zM1342,435.3h2V484h-2zM1344,432.2h1V484h-1zM1345,430.5h2V484h-2zM1347,432.0h1V484h-1zM1349,443.9h1V484h-1zM1350,436.3h2V484h-2zM1352,431.5h1V484h-1zM1353,424.6h2V484h-2zM1355,423.6h1V484h-1zM1356,429.2h2V484h-2zM1359,441.8h2V484h-2zM1361,445.5h1V484h-1zM1362,454.4h2V484h-2zM1364,454.0h1V484h-1zM1365,458.8h2V484h-2zM1367,445.1h1V484h-1zM1369,452.3h1V484h-1zM1370,461.7h2V484h-2zM1372,430.6h1V484h-1zM1373,415.3h2V484h-2zM1375,404.8h1V484h-1zM1376,394.4h2V484h-2zM1379,409.4h2V484h-2zM1381,420.4h1V484h-1zM1382,416.0h2V484h-2zM1384,412.9h1V484h-1zM1385,382.4h2V484h-2zM1387,312.8h1V484h-1zM1389,294.3h1V484h-1zM1390,293.4h2V484h-2zM1392,296.2h1V484h-1zM1393,326.9h2V484h-2zM1395,333.7h1V484h-1zM1396,349.9h2V484h-2zM1399,361.3h2V484h-2zM1401,367.6h1V484h-1zM1402,386.4h2V484h-2zM1404,374.8h2V484h-2zM1406,366.9h1V484h-1zM1407,360.6h1V484h-1zM1409,353.9h1V484h-1zM1410,341.7h2V484h-2zM1412,340.4h1V484h-1zM1413,360.5h2V484h-2zM1415,355.7h1V484h-1zM1416,342.8h2V484h-2zM1419,356.0h2V484h-2zM1421,364.2h2V484h-2zM1423,381.8h1V484h-1zM1424,396.2h2V484h-2zM1426,399.9h1V484h-1zM1427,396.6h1V484h-1zM1429,404.2h1V484h-1zM1430,413.2h2V484h-2zM1432,421.7h1V484h-1zM1433,434.7h2V484h-2zM1435,441.0h1V484h-1zM1436,332.7h2V484h-2zM1438,293.3h1V484h-1zM1440,308.0h1V484h-1zM1441,324.6h2V484h-2zM1443,278.0h3V484h-3zM1446,335.0h1V484h-1zM1447,354.3h2V484h-2zM1450,370.7h2V484h-2zM1452,381.2h1V484h-1zM1453,397.7h2V484h-2zM1455,410.0h1V484h-1zM1456,423.6h2V484h-2zM1458,423.3h1V484h-1zM1460,412.0h1V484h-1zM1461,400.9h2V484h-2zM1463,354.5h3V484h-3zM1466,364.2h1V484h-1zM1467,378.7h2V484h-2zM1470,384.7h2V484h-2zM1472,352.4h1V484h-1zM1473,340.2h2V484h-2zM1475,340.9h2V484h-2zM1477,352.7h1V484h-1zM1478,374.2h1V484h-1zM1480,358.3h1V484h-1zM1481,306.3h2V484h-2zM1483,265.3h1V484h-1zM1484,260.6h2V484h-2zM1486,249.0h1V484h-1zM1487,294.9h2V484h-2zM1490,320.8h2V484h-2zM1492,310.2h1V484h-1zM1493,322.2h2V484h-2zM1495,317.6h2V484h-2zM1497,316.9h1V484h-1zM1498,325.8h1V484h-1zM1500,358.9h1V484h-1zM1501,371.9h2V484h-2zM1503,369.2h1V484h-1zM1504,364.5h2V484h-2zM1506,355.2h1V484h-1zM1507,338.0h2V484h-2zM1510,369.5h2V484h-2zM1512,395.4h2V484h-2zM1514,406.4h1V484h-1zM1515,413.6h2V484h-2zM1517,393.3h1V484h-1zM1518,382.7h1V484h-1zM1520,391.5h1V484h-1zM1521,405.8h2V484h-2zM1523,420.1h1V484h-1zM1524,426.6h2V484h-2zM1526,421.2h1V484h-1zM1527,414.3h2V484h-2zM1530,298.0h2V484h-2zM1532,336.5h2V484h-2zM1534,330.2h1V484h-1zM1535,294.2h2V484h-2zM1537,292.7h1V484h-1zM1538,309.4h2V484h-2zM1541,366.0h2V484h-2zM1543,396.8h1V484h-1zM1544,422.5h2V484h-2zM1546,438.8h1V484h-1zM1547,443.5h2V484h-2zM1549,439.1h1V484h-1zM1551,436.3h1V484h-1zM1552,436.5h2V484h-2zM1554,444.9h1V484h-1zM1555,451.1h2V484h-2zM1557,455.0h1V484h-1zM1558,448.0h2V484h-2zM1561,392.3h2V484h-2zM1563,371.1h1V484h-1zM1564,383.5h2V484h-2zM1566,394.1h3V484h-3zM1569,403.4h1V484h-1zM1571,414.8h1V484h-1zM1572,345.7h2V484h-2zM1574,302.9h1V484h-1zM1575,290.8h2V484h-2zM1577,284.0h1V484h-1zM1578,277.0h2V484h-2zM1581,276.9h2V484h-2zM1583,286.4h1V484h-1zM1584,340.3h2V484h-2zM1586,402.2h2V484h-2zM1588,394.3h1V484h-1zM1589,394.5h1V484h-1zM1591,394.2h1V484h-1zM1592,390.5h2V484h-2zM1594,389.5h1V484h-1zM1595,393.5h2V484h-2zM1597,411.8h1V484h-1zM1598,421.1h2V484h-2zM1601,430.0h2V484h-2zM1603,449.2h2V484h-2zM1605,448.3h1V484h-1zM1606,455.8h2V484h-2zM1608,465.4h1V484h-1zM1609,469.2h1V484h-1zM1611,469.2h1V484h-1zM1612,470.0h2V484h-2zM1614,472.3h1V484h-1zM1615,473.8h2V484h-2zM1617,476.9h1V484h-1zM1618,480.3h2V484h-2zM1621,477.1h1V484h-1zM1622,474.9h1V484h-1zM1623,471.8h2V484h-2zM1625,471.6h1V484h-1zM1626,474.6h2V484h-2zM1648,481.3h1V484h-1zM1649,480.9h2V484h-2zM1655,481.2h2V484h-2zM1657,475.8h2V484h-2zM1659,475.0h1V484h-1zM1663,482.1h3V484h-3zM1666,482.5h2V484h-2zM1675,480.1h2V484h-2zM1677,477.9h2V484h-2zM1679,480.3h1V484h-1zM1680,480.0h1V484h-1zM1682,478.0h1V484h-1zM1683,475.2h2V484h-2zM1685,470.8h1V484h-1zM1686,462.4h2V484h-2zM1688,452.8h3V484h-3zM1692,457.5h2V484h-2zM1694,471.8h2V484h-2zM1696,483.3h1V484h-1zM1722,460.6h1V484h-1zM1723,438.7h2V484h-2zM1725,437.3h1V484h-1zM1726,455.9h2V484h-2zM1728,474.5h1V484h-1zM1729,481.6h2V484h-2zM1796,479.8h1V484h-1zM1797,476.6h2V484h-2zM1799,476.3h1V484h-1zM1805,480.4h2V484h-2zM1807,479.5h1V484h-1zM1810,482.6h1V484h-1zM1817,478.2h2V484h-2zM1819,477.9h2V484h-2zM1821,479.6h1V484h-1zM1822,477.9h1V484h-1zM1824,478.9h1V484h-1z" fill="#06b26c" shape-rendering="crispEdges"/>
<!-- extra tiny green -->
<!-- overlays -->
<rect x="169" y="481" width="840" height="378" fill="#ff0066" fill-opacity="0.105"/>
<rect x="1009" y="440" width="108.5" height="135.5" fill="#ff7700" fill-opacity="0.1"/>
<rect x="1117.5" y="232" width="519" height="250" fill="#00b374" fill-opacity="0.11"/>
<rect x="1636.5" y="423" width="236.5" height="118" fill="#ff7700" fill-opacity="0.1"/>
<!-- axes -->
<rect x="159.5" y="205" width="2.5" height="742" fill="#4a4a4a"/>
<rect x="1866" y="205" width="3" height="742" fill="#0db46c"/>
<g stroke="#e6e6e6" stroke-width="1">
<path d="M200.5,948V960M342.5,948V960M481.5,948V960M621.5,948V960M763.5,948V960M905.5,948V960M1044.5,948V960M1184.5,948V960M1326.5,948V960M1468.5,948V960M1607.5,948V960M1748.5,948V960"/>
</g>
<g font-size="14" fill="#444" text-anchor="end" letter-spacing="1.2">
<text x="149" y="294">$60k</text>
<text x="149" y="648">$20k</text>
<text x="149" y="943">$8k</text>
</g>
<g font-size="14" fill="#444" letter-spacing="1.0">
<text x="1880.5" y="388">$1b</text>
<text x="1879" y="573.6">-$1b</text>
<text x="1879" y="759.2">-$3b</text>
<text x="1879" y="944.8">-$5b</text>
</g>
<g font-size="16" fill="#4a4d52" text-anchor="middle" letter-spacing="0.4">
<text x="200.0" y="983.3">Oct '20</text>
<text x="342.0" y="983.3">Jan '21</text>
<text x="480.8" y="983.3">Apr '21</text>
<text x="621.2" y="983.3">Jul '21</text>
<text x="763.2" y="983.3">Oct '21</text>
<text x="905.1" y="983.3">Jan '22</text>
<text x="1044.0" y="983.3">Apr '22</text>
<text x="1184.4" y="983.3">Jul '22</text>
<text x="1326.4" y="983.3">Oct '22</text>
<text x="1468.3" y="983.3">Jan '23</text>
<text x="1607.2" y="983.3">Apr '23</text>
<text x="1747.6" y="983.3">Jul '23</text>
</g>
<!-- legend dots -->
<circle cx="122.5" cy="170.75" r="5" fill="#555555"/>
<text x="133" y="175.65" font-size="14" fill="#444">BTC: Price [USD]</text>
<circle cx="122.5" cy="193.0" r="5" fill="#3b78d8"/>
<text x="133" y="197.90" font-size="14" fill="#666" letter-spacing="-0.06">USDC: Exchange Inflow Volume (Total) – All Exchanges [USDC]</text>
<circle cx="122.5" cy="215.75" r="5" fill="#f25b5b"/>
<text x="133" y="220.65" font-size="14" fill="#444">Net Sell-side Outflows [USD]</text>
<circle cx="561.4" cy="170.75" r="5" fill="#f7931a"/>
<text x="572.2" y="175.65" font-size="14" fill="#666" letter-spacing="-0.06">BTC: Exchange Inflow Volume (Total) – All Exchanges [USD]</text>
<circle cx="561.4" cy="193.0" r="5" fill="#f0b90b"/>
<text x="572.2" y="197.90" font-size="14" fill="#666" letter-spacing="-0.06">BUSD: Exchange Inflow Volume (Total) – All Exchanges [BUSD]</text>
<circle cx="561.4" cy="215.75" r="5" fill="#262b80"/>
<text x="572.2" y="220.65" font-size="14" fill="#666" letter-spacing="-0.06">TUSD: Exchange Inflow Volume (Total) – All Exchanges [TUSD]</text>
<circle cx="1000.2" cy="170.75" r="5" fill="#6280ea"/>
<text x="1010.6" y="175.65" font-size="14" fill="#666" letter-spacing="-0.06">ETH: Exchange Inflow Volume (Total) – All Exchanges [USD]</text>
<circle cx="1000.2" cy="193.0" r="5" fill="#13a66b"/>
<text x="1010.6" y="197.90" font-size="14" fill="#666" letter-spacing="0">Stablecoin Inflows Minus BTC+ETH Inflows [USD]</text>
<circle cx="1439.5" cy="170.75" r="5" fill="#239b72"/>
<text x="1449.9" y="175.65" font-size="14" fill="#666" letter-spacing="-0.06">USDT: Exchange Inflow Volume (Total) – All Exchanges [USDT]</text>
<circle cx="1439.5" cy="193.0" r="5" fill="#10b86c"/>
<text x="1449.9" y="197.90" font-size="14" fill="#444">Net Buy-Side Inflows [USD]</text>
<!-- logo -->
<use href="#gn" stroke="#111" transform="translate(1780,1060) scale(0.095)"/>
<!-- texts -->
<text id="ttl" x="43" y="95.2" font-size="56" fill="#333" stroke="#333" stroke-width="0.7" letter-spacing="0.82">Market: Major Asset Buy-side vs Sell-side Exchange Inflows</text>
<g font-weight="bold" font-size="27">
<text x="1384" y="777.6" fill="#00b374">Chế độ Bên mua</text>
<text x="1388" y="824" fill="#ff005f">Chế độ Bên bán</text>
<text x="1388" y="870.4" fill="#ff7700" letter-spacing="0.3">Chế độ Trung lập</text>
</g>
<text id="ft" x="44" y="1094.5" font-size="19" fill="#7a7a7a" letter-spacing="0.4">© 2023 Glassnode. All Rights Reserved.</text>
<path d="M116.5,193.00H528M555.4,170.75H946M555.4,193.00H965M555.4,215.75H965M994.2,170.75H1384.8M994.2,193.00H1322.7M1433.5,170.75H1841" stroke="#4a4a4a" stroke-width="1.3"/>
</svg>
<!-- vietnamese legend -->
<div style="position:absolute;left:1305px;top:754px;width:61px;height:30px;background:#00b374"></div>
<div style="position:absolute;left:1305px;top:800px;width:61px;height:30px;background:#ff005f"></div>
<div style="position:absolute;left:1305px;top:846px;width:61px;height:30px;background:#ff7700"></div>
</body></html>
